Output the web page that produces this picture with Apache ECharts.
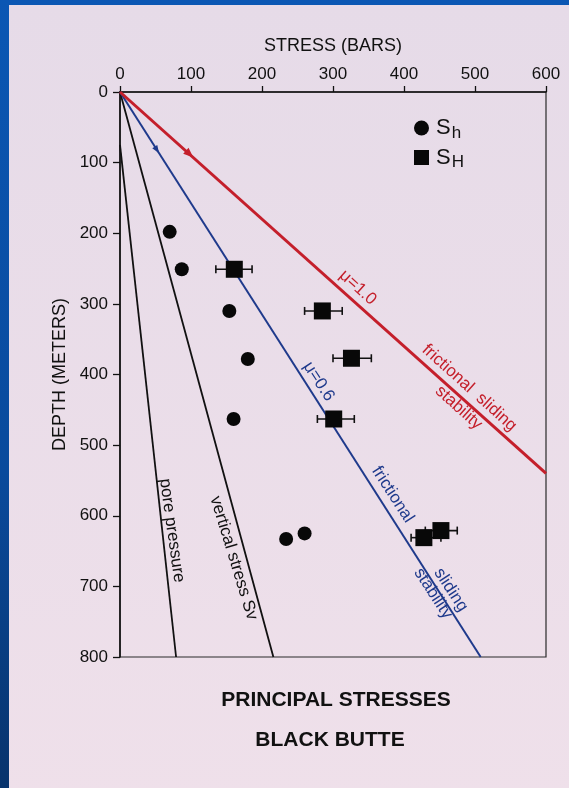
<!DOCTYPE html>
<html><head><meta charset="utf-8">
<script src="https://cdn.jsdelivr.net/npm/echarts@6/dist/echarts.min.js"></script>
<style>html,body{margin:0;padding:0;background:#0a4fa6}#c{width:569px;height:788px}</style>
</head><body><div id="c"></div>
<script>
// ---- data ----
const stressTicks = [0, 100, 200, 300, 400, 500, 600];
const depthTicks = [0, 100, 200, 300, 400, 500, 600, 700, 800];
const porePressureLine = [[0, 75], [79, 800]];
const verticalStressLine = [[0, 0], [216, 800]];
const mu06Line = [[0, 0], [508, 800]];
const mu10Line = [[0, 0], [600, 540]];
const shStress = [70, 87, 154, 180, 160, 234, 260];
const shDepth  = [198, 251, 310, 378, 463, 633, 625];
const sHStress = [161, 285, 326, 301, 452, 428];
const sHDepth  = [251, 310, 377, 463, 621, 631];
const sHLow    = [135, 260, 300, 278, 430, 410];
const sHHigh   = [186, 313, 354, 330, 475, 452];
const lineMarks = [[98, 88], [52, 82]];
const annotations = [
  { text: 'μ=1.0', at: [335, 277], angle: -42, color: '#c41f2b' },
  { text: 'frictional  sliding', at: [492, 419], angle: -42, color: '#c41f2b' },
  { text: 'stability', at: [477, 447], angle: -42, color: '#c41f2b' },
  { text: 'μ=0.6', at: [280, 410], angle: -57, color: '#1f3a8c' },
  { text: 'frictional', at: [384, 570], angle: -57, color: '#1f3a8c' },
  { text: 'sliding', at: [466, 705], angle: -57, color: '#1f3a8c' },
  { text: 'stability', at: [441, 710], angle: -57, color: '#1f3a8c' },
  { text: 'pore pressure', at: [73, 621], angle: -82, color: '#111' },
  { text: 'vertical stress Sv', at: [160, 660], angle: -73, color: '#111' }
];

const FONT = 'Liberation Sans, Arial, Helvetica, sans-serif';
const INK = '#111111';
const RED = '#c41f2b';
const BLUE = '#1f3a8c';

const chart = echarts.init(document.getElementById('c'), null, { renderer: 'canvas' });

const shData = shStress.map((s, i) => [s, shDepth[i]]);
const sHData = sHStress.map((s, i) => [s, sHDepth[i]]);
const errData = sHStress.map((s, i) => [s, sHDepth[i], sHLow[i], sHHigh[i]]);

const option = {
  animation: false,
  backgroundColor: {
    type: 'linear', x: 0, y: 0, x2: 0, y2: 1,
    colorStops: [{ offset: 0, color: '#0b57b4' }, { offset: 0.6, color: '#0a4a9c' }, { offset: 1, color: '#08336c' }]
  },
  graphic: [{
    type: 'rect', z: -100, silent: true,
    shape: { x: 9, y: 5, width: 580, height: 800 },
    style: {
      fill: { type: 'linear', x: 0, y: 0, x2: 0, y2: 1,
        colorStops: [{ offset: 0, color: '#e6dbe8' }, { offset: 1, color: '#efe0ea' }] }
    }
  }],
  title: [
    { text: 'PRINCIPAL STRESSES', left: 336, top: 690, textAlign: 'center', padding: 0,
      textStyle: { fontFamily: FONT, fontSize: 21, fontWeight: 'bold', color: INK } },
    { text: 'BLACK BUTTE', left: 330, top: 730, textAlign: 'center', padding: 0,
      textStyle: { fontFamily: FONT, fontSize: 21, fontWeight: 'bold', color: INK } }
  ],
  legend: {
    orient: 'vertical', left: 409, top: 112, itemWidth: 15, itemHeight: 15, itemGap: 5,
    selectedMode: false,
    data: [{ name: 'Sh', icon: 'circle' }, { name: 'SH', icon: 'rect' }],
    formatter: n => n === 'Sh' ? '{s|S}{b|h}' : '{s|S}{b|H}',
    textStyle: {
      color: INK, fontFamily: FONT,
      rich: {
        s: { fontSize: 22, fontFamily: FONT, color: INK, padding: [0, 1, 0, 2] },
        b: { fontSize: 17, fontFamily: FONT, color: INK, padding: [10, 0, 0, 0] }
      }
    }
  },
  grid: { left: 120, top: 92, right: 23, bottom: 131, show: true, borderColor: '#2a2a2a', borderWidth: 1.2, backgroundColor: 'transparent' },
  xAxis: {
    type: 'value', position: 'top', min: stressTicks[0], max: stressTicks[stressTicks.length - 1], interval: 100,
    name: 'STRESS (BARS)', nameLocation: 'middle', nameGap: 37,
    nameTextStyle: { fontFamily: FONT, fontSize: 18, color: INK },
    axisLine: { show: true, lineStyle: { color: INK, width: 1.6 } },
    axisTick: { show: true, length: 6, lineStyle: { color: INK, width: 1.3 } },
    axisLabel: { fontFamily: FONT, fontSize: 17, color: INK, margin: 9 },
    splitLine: { show: false }
  },
  yAxis: {
    type: 'value', inverse: true, min: depthTicks[0], max: depthTicks[depthTicks.length - 1], interval: 100,
    name: 'DEPTH (METERS)', nameLocation: 'middle', nameGap: 50, nameRotate: 90,
    nameTextStyle: { fontFamily: FONT, fontSize: 18, color: INK },
    axisLine: { show: true, lineStyle: { color: INK, width: 1.6 } },
    axisTick: { show: true, length: 7, lineStyle: { color: INK, width: 1.3 } },
    axisLabel: { fontFamily: FONT, fontSize: 17, color: INK, margin: 12 },
    splitLine: { show: false }
  },
  series: [
    { name: 'pore pressure', type: 'line', data: porePressureLine, showSymbol: false, silent: true, z: 3,
      lineStyle: { color: INK, width: 1.8 } },
    { name: 'vertical stress', type: 'line', data: verticalStressLine, showSymbol: false, silent: true, z: 3,
      lineStyle: { color: INK, width: 1.8 } },
    { name: 'mu06', type: 'line', data: mu06Line, showSymbol: false, silent: true, z: 3,
      lineStyle: { color: BLUE, width: 2 } },
    { name: 'mu10', type: 'line', data: mu10Line, showSymbol: false, silent: true, z: 3,
      lineStyle: { color: RED, width: 3 } },
    { name: 'marks', type: 'scatter', silent: true, z: 4,
      data: [
        { value: lineMarks[0], symbol: 'triangle', symbolSize: [8, 10], symbolRotate: -132, itemStyle: { color: RED, opacity: 1 } },
        { value: lineMarks[1], symbol: 'triangle', symbolSize: [6, 8], symbolRotate: -147, itemStyle: { color: BLUE, opacity: 1 } }
      ] },
    { name: 'err', type: 'custom', silent: true, z: 5,
      data: errData,
      encode: { x: [0, 2, 3], y: 1 },
      renderItem: (params, api) => {
        const y = api.value(1);
        const a = api.coord([api.value(2), y]);
        const b = api.coord([api.value(3), y]);
        const h = 4;
        const st = { stroke: INK, lineWidth: 1.6 };
        return { type: 'group', children: [
          { type: 'line', shape: { x1: a[0], y1: a[1], x2: b[0], y2: b[1] }, style: st },
          { type: 'line', shape: { x1: a[0], y1: a[1] - h, x2: a[0], y2: a[1] + h }, style: st },
          { type: 'line', shape: { x1: b[0], y1: b[1] - h, x2: b[0], y2: b[1] + h }, style: st }
        ] };
      } },
    { name: 'Sh', type: 'scatter', data: shData, symbol: 'circle', symbolSize: 14, z: 6,
      itemStyle: { color: '#080808', opacity: 1 } },
    { name: 'SH', type: 'scatter', data: sHData, symbol: 'rect', symbolSize: 17, z: 6,
      itemStyle: { color: '#080808', opacity: 1 } },
    { name: 'labels', type: 'scatter', silent: true, symbolSize: 0, z: 7,
      itemStyle: { opacity: 1 },
      data: annotations.map(a => ({
        value: a.at,
        label: { show: true, position: 'inside', formatter: a.text, rotate: a.angle, color: a.color,
          opacity: 1, fontFamily: FONT, fontSize: 17 }
      })) }
  ]
};
chart.setOption(option);
</script></body></html>
